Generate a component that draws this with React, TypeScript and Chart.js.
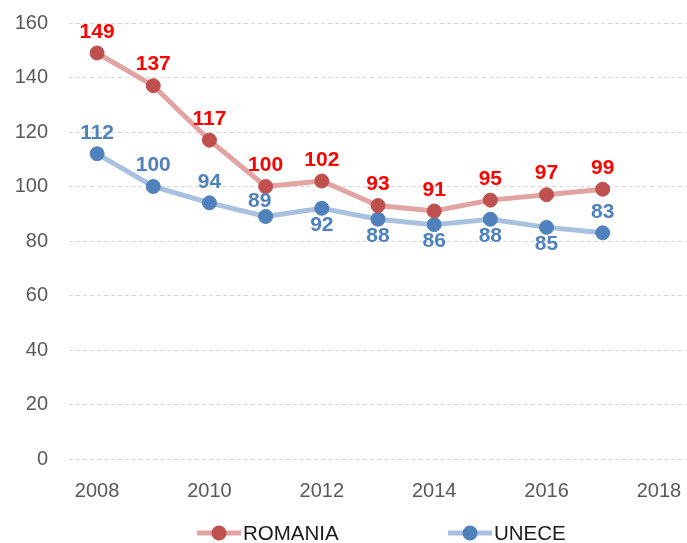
import React, { useEffect, useRef } from "react";
import { Chart, registerables } from "chart.js";

Chart.register(...registerables);

const years = [2008, 2009, 2010, 2011, 2012, 2013, 2014, 2015, 2016, 2017];
const romania = [149, 137, 117, 100, 102, 93, 91, 95, 97, 99];
const unece = [112, 100, 94, 89, 92, 88, 86, 88, 85, 83];
const romaniaLabelPos = ["above", "above", "above", "above", "above", "above", "above", "above", "above", "above"];
const uneceLabelPos = ["above", "above", "above", "aboveLeft", "below", "below", "below", "below", "below", "above"];
const xTicks = [2008, 2010, 2012, 2014, 2016, 2018];
const seriesNames = ["ROMANIA", "UNECE"];

const FONT = "'Liberation Sans', Arial, sans-serif";

const valueLabels = {
  id: "valueLabels",
  afterDatasetsDraw(chart: any) {
    const ctx = chart.ctx;
    ctx.save();
    ctx.font = `bold 21px ${FONT}`;
    ctx.textAlign = "center";
    ctx.textBaseline = "middle";
    chart.data.datasets.forEach((ds: any, i: number) => {
      const meta = chart.getDatasetMeta(i);
      meta.data.forEach((pt: any, j: number) => {
        const pos = ds.labelPos[j];
        let x = pt.x;
        let y = pt.y - 21;
        if (pos === "below") y = pt.y + 17;
        if (pos === "aboveLeft") {
          y = pt.y - 15;
          x = pt.x - 6;
        }
        ctx.fillStyle = ds.labelColor;
        ctx.fillText(String(Math.round(ds.data[j].y)), x, y);
      });
    });
    ctx.restore();
  },
};

const customLegend = {
  id: "customLegend",
  afterDraw(chart: any) {
    const ctx = chart.ctx;
    const y = 533;
    const starts = [197, 448];
    ctx.save();
    chart.data.datasets.forEach((ds: any, i: number) => {
      const x0 = starts[i];
      ctx.strokeStyle = ds.borderColor;
      ctx.lineWidth = 5;
      ctx.beginPath();
      ctx.moveTo(x0, y);
      ctx.lineTo(x0 + 44, y);
      ctx.stroke();
      ctx.fillStyle = ds.pointBackgroundColor;
      ctx.beginPath();
      ctx.arc(x0 + 22, y, 7.5, 0, Math.PI * 2);
      ctx.fill();
      ctx.fillStyle = "#1a1a1a";
      ctx.font = `20.5px ${FONT}`;
      ctx.textAlign = "left";
      ctx.textBaseline = "middle";
      ctx.fillText(ds.label, x0 + 46, y + 1);
    });
    ctx.restore();
  },
};

export default function App() {
  const ref = useRef<HTMLCanvasElement>(null);
  useEffect(() => {
    document.body.style.margin = "0";
    const chart = new Chart(ref.current as HTMLCanvasElement, {
      type: "line",
      data: {
        datasets: [
          {
            label: seriesNames[0],
            data: years.map((x, i) => ({ x, y: romania[i] })),
            borderColor: "#e3a3a2",
            backgroundColor: "#c0504d",
            pointBackgroundColor: "#c0504d",
            pointBorderColor: "#c0504d",
            pointRadius: 7,
            pointBorderWidth: 1,
            borderWidth: 5,
            tension: 0,
            clip: false,
            labelPos: romaniaLabelPos,
            labelColor: "#ff0000",
          } as any,
          {
            label: seriesNames[1],
            data: years.map((x, i) => ({ x, y: unece[i] })),
            borderColor: "#a8c1e0",
            backgroundColor: "#4f81bd",
            pointBackgroundColor: "#4f81bd",
            pointBorderColor: "#4f81bd",
            pointRadius: 7,
            pointBorderWidth: 1,
            borderWidth: 5,
            tension: 0,
            clip: false,
            labelPos: uneceLabelPos,
            labelColor: "#4f81bd",
          } as any,
        ],
      },
      options: {
        animation: false,
        responsive: false,
        maintainAspectRatio: false,
        layout: { autoPadding: false, padding: { top: 23, right: -2, left: 0, bottom: 0 } },
        plugins: {
          legend: { display: false },
          tooltip: { enabled: false },
        },
        scales: {
          x: {
            type: "linear",
            min: 2007.5,
            max: 2018.5,
            afterBuildTicks: (scale: any) => {
              scale.ticks = xTicks.map((v) => ({ value: v }));
            },
            afterFit: (scale: any) => {
              scale.height = 84;
              scale.paddingLeft = 0;
              scale.paddingRight = 0;
            },
            grid: { display: false, drawTicks: false },
            border: { display: false },
            ticks: {
              font: { family: FONT, size: 20 },
              color: "#595959",
              padding: 20,
              maxRotation: 0,
              autoSkip: false,
              callback: (v: any) => String(v),
            },
          },
          y: {
            min: 0,
            max: 160,
            afterFit: (scale: any) => {
              scale.width = 69;
              scale.paddingTop = 0;
              scale.paddingBottom = 0;
            },
            ticks: {
              stepSize: 20,
              font: { family: FONT, size: 20 },
              color: "#595959",
              padding: 21,
            },
            grid: {
              color: "#d9d9d9",
              lineWidth: 1,
              drawTicks: false,
            },
            border: { display: false, dash: [4, 3] },
          },
        },
      },
      plugins: [valueLabels, customLegend],
    });
    return () => chart.destroy();
  }, []);
  return (
    <div style={{ position: "fixed", left: 0, top: 0, width: 687, height: 543 }}>
      <canvas ref={ref} width={687} height={543} style={{ width: 687, height: 543 }} />
    </div>
  );
}
